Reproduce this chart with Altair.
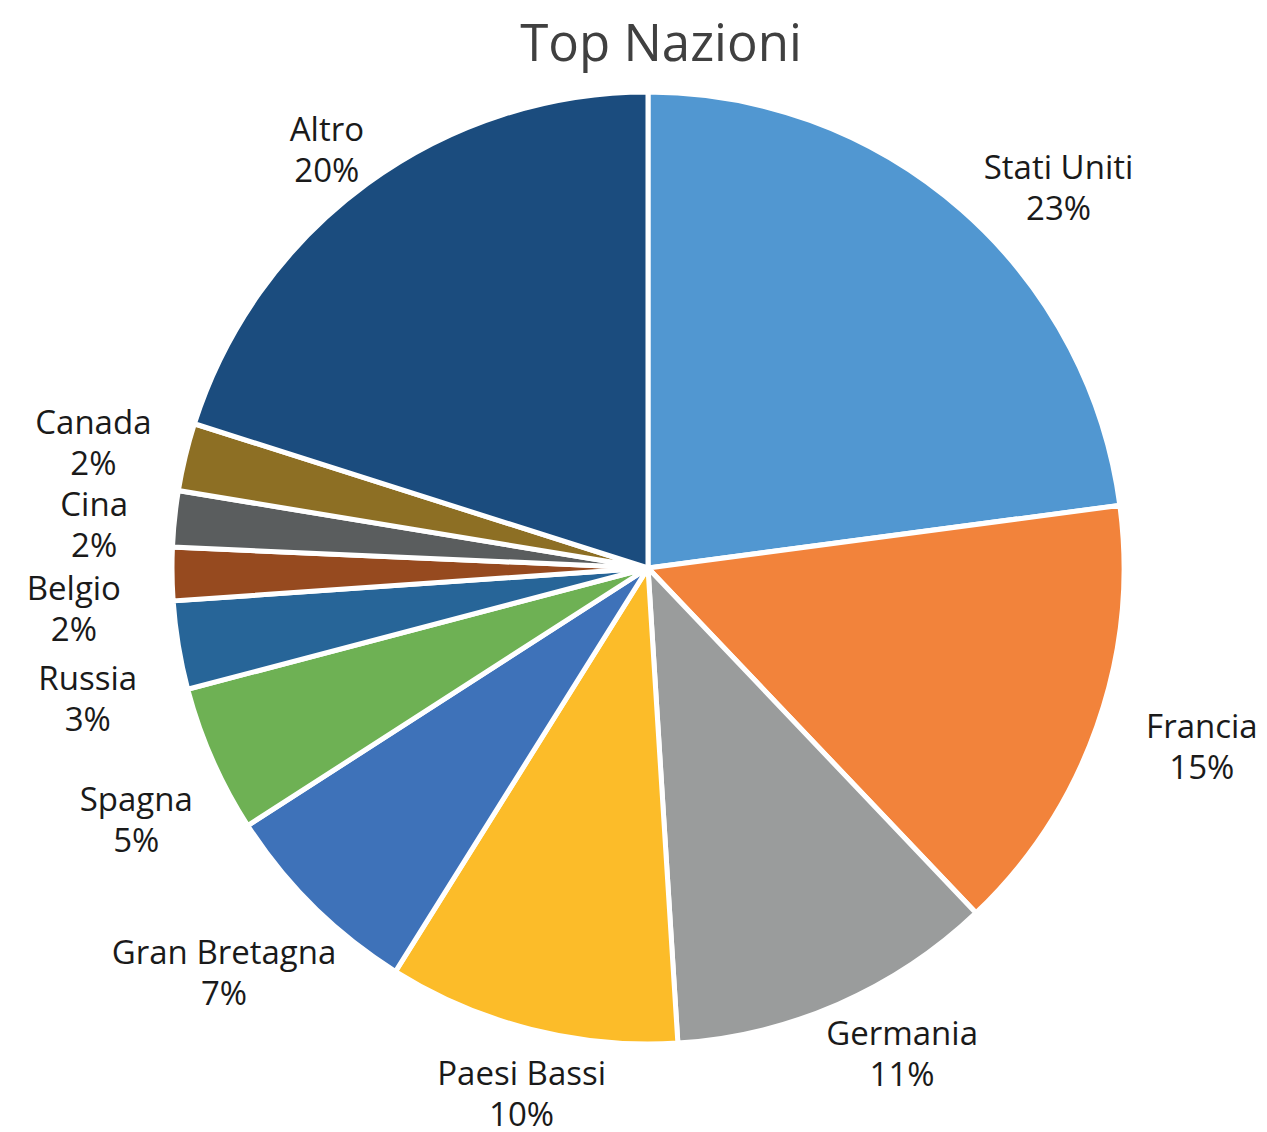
import altair as alt
import pandas as pd

paesi = ["Stati Uniti", "Francia", "Germania", "Paesi Bassi", "Gran Bretagna",
         "Spagna", "Russia", "Belgio", "Cina", "Canada", "Altro"]
quote = [22.9, 15.0, 11.1, 9.9, 7.0, 5.0, 3.0, 1.8, 1.9, 2.3, 20.1]
colori = ["#5197D1", "#F2833B", "#9A9C9C", "#FCBC29", "#3E72B9", "#6EB154",
          "#276598", "#964A1F", "#5A5D5E", "#8D6F24", "#1B4C7E"]

df = pd.DataFrame({"paese": paesi, "quota": quote, "ordine": list(range(len(paesi)))})
df["etichetta"] = df["paese"] + "\n" + df["quota"].round().astype(int).astype(str) + "%"

FONT = "Open Sans"
W, H = 1220, 940
R = 476

arcs = alt.Chart(df).mark_arc(radius=R, stroke="white", strokeWidth=5).encode(
    theta=alt.Theta("quota:Q", stack=True, scale=alt.Scale(range=[0, 6.283185307179586])),
    order=alt.Order("ordine:Q"),
    color=alt.Color("paese:N", scale=alt.Scale(domain=paesi, range=colori), legend=None),
)

# outside labels: mid-angle of each slice (small slices get a minimum angular room),
# pushed out from the rim by half the label's width/height plus a gap
labels = (
    alt.Chart(df)
    .transform_calculate(q2="max(datum.quota, 2.6)")
    .transform_window(cum2="sum(q2)", sort=[alt.SortField("ordine")], frame=[None, 0])
    .transform_joinaggregate(tot2="sum(q2)")
    .transform_calculate(th="2*PI*(datum.cum2 - datum.q2/2)/datum.tot2 + 0.017")
    .transform_calculate(
        px=f"{W/2} + sin(datum.th)*({R} + 9*max(length(datum.paese),3) + 45)",
        py=f"{H/2 + 14} - cos(datum.th)*({R} + 33 + 15)",
    )
    .mark_text(fontSize=33, font=FONT, color="#1a1a1a", lineBreak="\n", lineHeight=41,
               align="center", baseline="middle", dy=-20)
    .encode(
        x=alt.X("px:Q", scale=None, axis=None),
        y=alt.Y("py:Q", scale=None, axis=None),
        text="etichetta:N",
    )
)

chart = (arcs + labels).properties(
    width=W, height=H,
    padding={"left": 30, "top": 90, "right": 0, "bottom": 140},
    autosize=alt.AutoSizeParams(type="none"),
    title=alt.TitleParams("Top Nazioni", fontSize=51, font=FONT, fontWeight="normal",
                          color="#404040", frame="group", anchor="middle", dx=13, offset=10),
).configure_view(stroke=None)

chart.save("out.html", embed_options={"renderer": "svg", "actions": False})
